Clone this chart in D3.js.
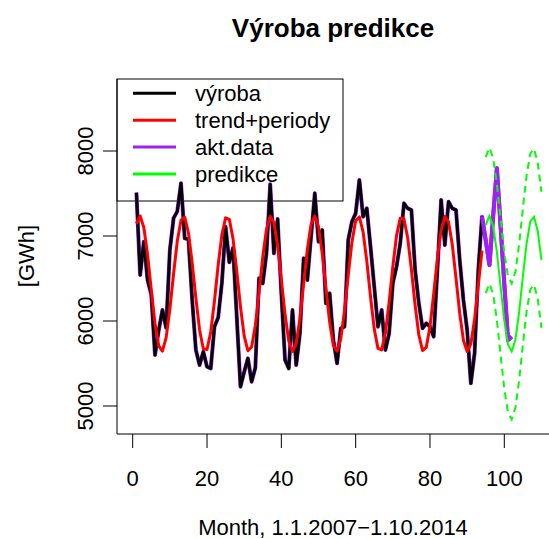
<!DOCTYPE html>
<html lang="cs">
<head>
    <meta charset="UTF-8">
    <title>Výroba predikce</title>
</head>
<style>
    html,
    body {
        margin: 0;
        padding: 0;
        background: #fff;
    }
    text {
        font-family: "Liberation Sans", Arial, sans-serif;
    }
</style>
<body>
    <script src="https://cdn.jsdelivr.net/npm/d3@7"></script>
    <script>
        // data (GWh per month, month 1 = 1.1.2007)
        var vyroba = [
            7510, 6541, 6933, 6482, 6310, 5600, 5890, 6130, 5920, 6835, 7210, 7290,
            7620, 6973, 6961, 6250, 5659, 5482, 5639, 5463, 5443, 5933, 6040, 6450,
            7110, 6690, 6860, 6051, 5227, 5400, 5560, 5286, 5450, 6502, 6443, 6796,
            7610, 6796, 7200, 6325, 5541, 5443, 6129, 5482, 5855, 6737, 6482, 6992,
            7502, 6933, 7070, 6208, 6325, 5776, 5502, 5914, 5933, 6953, 7170, 7267,
            7659, 7227, 7325, 6875, 6404, 5933, 6129, 5659, 5855, 6443, 6639, 6914,
            7384, 7325, 7306, 6600, 6208, 5914, 5973, 5933, 5816, 6600, 7424, 6894,
            7404, 7325, 7306, 6718, 6247, 5894, 5267, 5620, 6600, 7227
        ];
        var trend = [
            7144, 7236, 7100, 6783, 6369, 5974, 5708, 5646, 5804, 6138, 6556, 6940,
            7185, 7221, 7038, 6688, 6268, 5895, 5673, 5664, 5870, 6235, 6656, 7015,
            7214, 7196, 6967, 6589, 6170, 5825, 5650, 5695, 5947, 6335, 6752, 7081,
            7230, 7159, 6886, 6488, 6076, 5764, 5640, 5739, 6031, 6437, 6843, 7135,
            7234, 7110, 6798, 6386, 5988, 5715, 5644, 5793, 6122, 6539, 6927, 7179,
            7224, 7049, 6704, 6285, 5907, 5678, 5660, 5859, 6218, 6639, 7004, 7210,
            7201, 6979, 6606, 6186, 5836, 5653, 5689, 5934, 6318, 6736, 7070, 7229,
            7166, 6900, 6505, 6091, 5774, 5641, 5730, 6017, 6420, 6828
        ];
        var aktData = [7227, 6950, 6659, 7230, 7796, 7118, 6439, 5776, 5815];
        var aktStart = 94;
        var predikce = [7127, 7237, 7119, 6813, 6403, 6002, 5723, 5642, 5783, 6107, 6522, 6914, 7172, 7226, 7060, 6720];
        var horni = [7927, 8037, 7919, 7613, 7203, 6802, 6523, 6442, 6583, 6907, 7322, 7714, 7972, 8026, 7860, 7520];
        var dolni = [6327, 6437, 6319, 6013, 5603, 5202, 4923, 4842, 4983, 5307, 5722, 6114, 6372, 6426, 6260, 5920];
        var predStart = 95;
        var xTicks = [0, 20, 40, 60, 80, 100];
        var yTicks = [5000, 6000, 7000, 8000];
        var legendNames = ['výroba', 'trend+periody', 'akt.data', 'predikce'];
        var legendColors = ['#000000', '#ff0000', '#a020f0', '#00ff00'];

        // canvas
        var W = 549, H = 539;
        var plot = { left: 117, right: 550, top: 79, bottom: 434 };
        var fs = 22;
        var svg = d3.select('body').append('svg').attr('width', W).attr('height', H);
        svg.append('rect').attr('width', W).attr('height', H).attr('fill', '#fff');

        var x = d3.scaleLinear().domain([0, 100]).range([132.7, 504.3]);
        var y = d3.scaleLinear().domain([5000, 8000]).range([406, 151]);

        var toPts = function (arr, start) {
            return arr.map(function (v, i) { return [start + i, v]; });
        };
        var line = d3.line().x(function (d) { return x(d[0]); }).y(function (d) { return y(d[1]); });

        // legend box first (no fill), the lines go over it
        var leg = svg.append('g');
        leg.append('rect').attr('x', plot.left).attr('y', plot.top).attr('width', 226).attr('height', 122)
            .attr('fill', 'none').attr('stroke', '#000').attr('stroke-width', 1);
        legendNames.forEach(function (name, i) {
            var ly = 93.3 + i * 26.9;
            leg.append('line').attr('x1', 133).attr('x2', 176).attr('y1', ly).attr('y2', ly)
                .attr('stroke', legendColors[i]).attr('stroke-width', 3);
            leg.append('text').attr('x', 195).attr('y', ly + 7.5).attr('font-size', fs).text(name);
        });

        svg.append('clipPath').attr('id', 'clip').append('rect')
            .attr('x', plot.left).attr('y', plot.top)
            .attr('width', plot.right - plot.left).attr('height', plot.bottom - plot.top);
        var g = svg.append('g').attr('clip-path', 'url(#clip)');

        // whole real series in purple underneath, then the black part over it
        var allData = toPts(vyroba, 1).concat(toPts(aktData.slice(1), aktStart + 1));
        g.append('path').attr('d', line(allData)).attr('fill', 'none')
            .attr('stroke', legendColors[2]).attr('stroke-width', 4).attr('stroke-linejoin', 'round');
        g.append('path').attr('d', line(toPts(vyroba, 1))).attr('fill', 'none')
            .attr('stroke', legendColors[0]).attr('stroke-width', 3).attr('stroke-linejoin', 'round');
        g.append('path').attr('d', line(toPts(trend, 1))).attr('fill', 'none')
            .attr('stroke', legendColors[1]).attr('stroke-width', 3).attr('stroke-linejoin', 'round');
        g.append('path').attr('d', line(toPts(aktData, aktStart))).attr('fill', 'none')
            .attr('stroke', legendColors[2]).attr('stroke-width', 4).attr('stroke-linejoin', 'round');
        g.append('path').attr('d', line(toPts(predikce, predStart))).attr('fill', 'none')
            .attr('stroke', legendColors[3]).attr('stroke-width', 2);
        [horni, dolni].forEach(function (arr) {
            g.append('path').attr('d', line(toPts(arr, predStart))).attr('fill', 'none')
                .attr('stroke', legendColors[3]).attr('stroke-width', 2).attr('stroke-dasharray', '7,5');
        });

        // L-shaped box
        svg.append('path')
            .attr('d', 'M' + plot.left + ',' + plot.top + 'V' + plot.bottom + 'H' + plot.right)
            .attr('fill', 'none').attr('stroke', '#000').attr('stroke-width', 1);

        // x axis
        var xAxis = svg.append('g');
        xTicks.forEach(function (t) {
            xAxis.append('line').attr('x1', x(t)).attr('x2', x(t)).attr('y1', plot.bottom).attr('y2', plot.bottom + 14)
                .attr('stroke', '#000');
            xAxis.append('text').attr('x', x(t)).attr('y', 486).attr('text-anchor', 'middle')
                .attr('font-size', fs).text(t);
        });

        // y axis
        var yAxis = svg.append('g');
        yTicks.forEach(function (t) {
            yAxis.append('line').attr('x1', plot.left - 14).attr('x2', plot.left).attr('y1', y(t)).attr('y2', y(t))
                .attr('stroke', '#000');
            yAxis.append('text').attr('transform', 'translate(93,' + y(t) + ') rotate(-90)')
                .attr('text-anchor', 'middle').attr('font-size', fs).text(t);
        });

        // titles
        svg.append('text').attr('x', 333).attr('y', 37).attr('text-anchor', 'middle')
            .attr('font-size', 26).attr('font-weight', 'bold').text('Výroba predikce');
        svg.append('text').attr('x', 333).attr('y', 535).attr('text-anchor', 'middle')
            .attr('font-size', fs).text('Month, 1.1.2007\u22121.10.2014');
        svg.append('text').attr('transform', 'translate(34,256) rotate(-90)')
            .attr('text-anchor', 'middle').attr('font-size', fs).text('[GWh]');
    </script>
</body>
</html>
